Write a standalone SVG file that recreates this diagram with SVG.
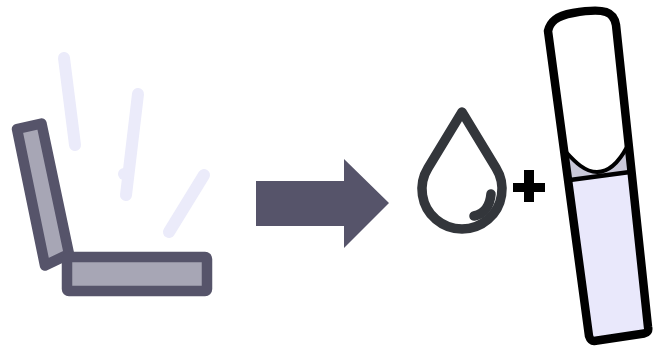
<svg xmlns="http://www.w3.org/2000/svg" width="657" height="346" viewBox="0 0 657 346">
<style>
.ray{fill:none;stroke:#ebebfa;stroke-width:12;stroke-linecap:round}
.part{fill:#a7a6b5;stroke:#56546a;stroke-width:10.500;stroke-linejoin:round}
.drop{fill:none;stroke:#33363b;stroke-width:9.500;stroke-linecap:round;stroke-linejoin:round}
.reed{fill:none;stroke:#000;stroke-linejoin:round}
</style>
<rect width="657" height="346" fill="#fff"/>
<g id="rays">
<path class="ray" d="M64 58L75 145"/>
<path class="ray" d="M138 94L126 195"/>
<path class="ray" d="M124 174L127 174"/>
<path class="ray" d="M204 175L169 232"/>
</g>
<g id="case">
<path class="part" d="M17 129L41.500 123.500L69 254L45 265.500Z"/>
<rect class="part" x="67" y="257" width="140" height="34" rx="2"/>
</g>
<g id="arrow">
<path fill="#56546a" d="M256 181H344V159L389 203L344 248V226H256Z"/>
</g>
<g id="drop">
<path class="drop" d="M462 112L428 168A40 40 0 1 0 496 168Z"/>
<path class="drop" d="M491 194C490 206 484 214 474 216"/>
</g>
<g id="plus">
<path fill="#000" d="M524 170H534V183H545V192H534V202H524V192H513V183H524Z"/>
</g>
<g id="reed">
<path fill="#e9e8fb" d="M570 180L630 172L649 333L590 342Z"/>
<path fill="#c9c8d8" d="M566 152C575 162 585 172 597 172C610 172 620 160 627 147L630 174L570 181Z"/>
<path class="reed" stroke-width="4" d="M566 152C575 162 585 172 597 172C610 172 620 160 627 147"/>
<path class="reed" stroke-width="4.500" d="M570 180L630 172"/>
<path class="reed" stroke-width="8.500" d="M548 31C550 22 556 16 573 13C590 10 600 10 606 12C612 14 615 19 616 25L648 327C649 331 647 333 644 333.500L594 341C591 341 590 339 589 336Z"/>
</g>
</svg>
